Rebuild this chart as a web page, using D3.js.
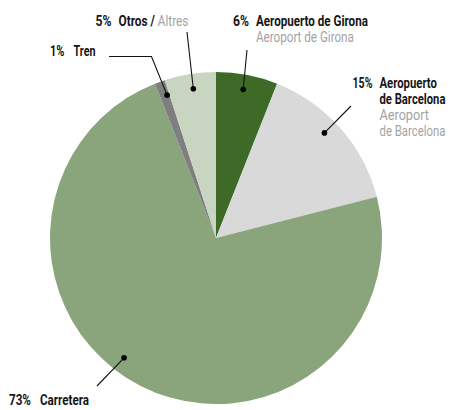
<!DOCTYPE html>
<html><head><meta charset="utf-8">
<script src="https://cdn.jsdelivr.net/npm/d3@7"></script>
<style>
body{margin:0;background:#fff;}
text{font-family:"Roboto","Liberation Sans",sans-serif;font-size:14px;}
</style></head>
<body><svg id="c" width="452" height="410"></svg>
<script>
const categories = ["Aeropuerto de Girona","Aeropuerto de Barcelona","Carretera","Tren","Otros"];
const values = [6, 15, 73, 1, 5];
const pctLabels = ["6%","15%","73%","1%","5%"];
const colors = ["#3d6a27","#d9d9d9","#8aa57c","#7f7f7f","#c8d5c0"];

const svg = d3.select("#c");
const cx = 216, cy = 238, R = 166;
const g = svg.append("g").attr("transform", `translate(${cx},${cy})`);
const pie = d3.pie().sort(null).value(d => d)(values);
const arc = d3.arc().innerRadius(0).outerRadius(R);
g.selectAll("path").data(pie).join("path")
  .attr("d", arc).attr("fill", (d,i) => colors[i]);

// anchor point inside slice i at fraction t of its angular span, radius r
function pt(i, t, r){
  const a = pie[i].startAngle + t * (pie[i].endAngle - pie[i].startAngle);
  return [cx + r * Math.sin(a), cy - r * Math.cos(a)];
}
const leaders = [
  {i:0, t:0.48, path:[[247,50]]},
  {i:1, t:0.45, path:[[351,106]]},
  {i:2, t:0.54, path:[[97,386]]},
  {i:3, t:0.75, path:[[151.5,56.5],[109,56.5]]},
  {i:4, t:0.52, path:[[187,32]]}
];
leaders.forEach(l => {
  const p = pt(l.i, l.t, 151);
  svg.append("path").attr("d", d3.line()([p].concat(l.path)))
    .attr("fill","none").attr("stroke","#111").attr("stroke-width",1.1);
  svg.append("circle").attr("cx",p[0]).attr("cy",p[1]).attr("r",2.8).attr("fill","#000");
});

const black = "#151515", grey = "#a3a3a3";
// condensed look: horizontally scale each label to its target width
function label(x, y, w, parts){
  const t = svg.append("text");
  parts.forEach(p => t.append("tspan").attr("fill", p.c).attr("font-weight", p.w||"bold").text(p.t));
  const nat = t.node().getComputedTextLength();
  t.attr("transform", `translate(${x},${y}) scale(${w / nat},1)`);
  return t;
}
label(95.5, 26, 16, [{t:pctLabels[4], c:black}]);
label(118.5, 26, 70, [{t:"Otros / ", c:black},{t:"Altres", c:grey, w:"normal"}]);
label(233, 26, 16, [{t:pctLabels[0], c:black}]);
label(256, 26, 112, [{t:"Aeropuerto de Girona", c:black}]);
label(256, 42, 98, [{t:"Aeroport de Girona", c:grey, w:"normal"}]);
label(50, 56, 14.5, [{t:pctLabels[3], c:black}]);
label(73.5, 56, 22, [{t:"Tren", c:black}]);
label(352.5, 87.5, 20, [{t:pctLabels[1], c:black}]);
label(379.5, 87.5, 57.5, [{t:"Aeropuerto", c:black}]);
label(379.5, 103.5, 66, [{t:"de Barcelona", c:black}]);
label(379.5, 119.5, 49.5, [{t:"Aeroport", c:grey, w:"normal"}]);
label(379.5, 135.5, 66, [{t:"de Barcelona", c:grey, w:"normal"}]);
label(9, 404.5, 22, [{t:pctLabels[2], c:black}]);
label(40, 404.5, 49, [{t:"Carretera", c:black}]);
</script></body></html>
